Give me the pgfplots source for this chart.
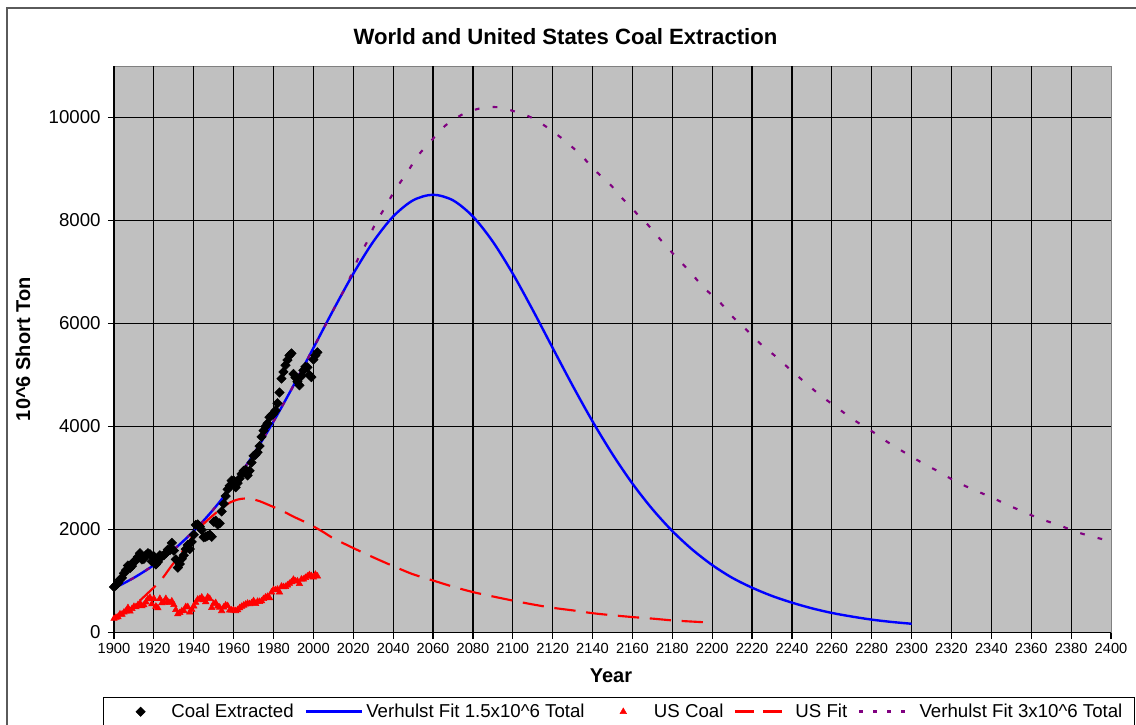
\documentclass[border=0pt]{standalone}
\usepackage{pgfplots}
\pgfplotsset{compat=1.18}
\usepackage{pgfplotstable}
\usepackage{fontspec}
\setmainfont{Liberation Sans}
\definecolor{plotbg}{HTML}{C0C0C0}
\definecolor{vpurple}{HTML}{800080}
\definecolor{framegray}{HTML}{5A5A5A}

\pgfplotstableread{
year val
1900 885
1901 920
1902 960
1903 1030
1904 1060
1905 1150
1906 1210
1907 1300
1908 1250
1909 1290
1910 1380
1911 1400
1912 1470
1913 1540
1914 1420
1915 1430
1916 1500
1917 1540
1918 1520
1919 1380
1920 1480
1921 1320
1922 1370
1923 1500
1924 1480
1925 1500
1926 1540
1927 1610
1928 1600
1929 1740
1930 1590
1931 1420
1932 1260
1933 1330
1934 1430
1935 1500
1936 1620
1937 1700
1938 1620
1939 1760
1940 1900
1941 2090
1942 2100
1943 2060
1944 1990
1945 1850
1946 1860
1947 1880
1948 1900
1949 1860
1950 2150
1951 2170
1952 2100
1953 2120
1954 2350
1955 2500
1956 2650
1957 2780
1958 2850
1959 2950
1960 2950
1961 2820
1962 2900
1963 2990
1964 3080
1965 3140
1966 3160
1967 3050
1968 3140
1969 3300
1970 3430
1971 3450
1972 3500
1973 3620
1974 3800
1975 3920
1976 4000
1977 4060
1978 4180
1979 4220
1980 4250
1981 4310
1982 4450
1983 4660
1984 4930
1985 5060
1986 5190
1987 5290
1988 5380
1989 5420
1990 5020
1991 4950
1992 4870
1993 4800
1994 4980
1995 5090
1996 5160
1997 5150
1998 5000
1999 4960
2000 5300
2001 5380
2002 5440
}\worldcoal

\pgfplotstableread{
year val
1900 858
1910 1063
1920 1310
1930 1611
1940 1970
1950 2396
1960 2892
1970 3462
1980 4099
1990 4794
2000 5525
2010 6263
2020 6967
2030 7588
2040 8078
2050 8392
2060 8500
2070 8392
2080 8078
2090 7588
2100 6967
2110 6263
2120 5525
2130 4794
2140 4099
2150 3462
2160 2892
2170 2396
2180 1970
2190 1611
2200 1310
2210 1063
2220 870
2230 710
2240 580
2250 470
2260 380
2270 310
2280 250
2290 205
2300 170
}\verhulstA

\pgfplotstableread{
year val
1900 270
1901 290
1902 300
1903 357
1904 351
1905 393
1906 415
1907 480
1908 415
1909 460
1910 502
1911 496
1912 535
1913 570
1914 514
1915 532
1916 590
1917 651
1918 679
1919 553
1920 658
1921 507
1922 476
1923 658
1924 571
1925 582
1926 657
1927 597
1928 576
1929 608
1930 537
1931 442
1932 359
1933 383
1934 416
1935 424
1936 497
1937 497
1938 395
1939 445
1940 512
1941 582
1942 643
1943 651
1944 684
1945 632
1946 594
1947 688
1948 657
1949 480
1950 560
1951 576
1952 508
1953 488
1954 420
1955 490
1956 530
1957 518
1958 432
1959 432
1960 434
1961 420
1962 439
1963 477
1964 504
1965 527
1966 547
1967 565
1968 556
1969 571
1970 613
1971 560
1972 602
1973 599
1974 610
1975 655
1976 685
1977 697
1978 670
1979 781
1980 830
1981 824
1982 838
1983 782
1984 896
1985 884
1986 890
1987 919
1988 950
1989 981
1990 1029
1991 996
1992 998
1993 945
1994 1034
1995 1033
1996 1064
1997 1090
1998 1118
1999 1100
2000 1074
2001 1128
2002 1094
}\uscoal

\pgfplotstableread{
year val
1900 270
1905 380
1910 510
1916 730
1923 990
1928 1250
1934 1560
1940 1900
1946 2150
1952 2350
1958 2520
1963 2590
1968 2600
1973 2550
1978 2470
1984 2370
1990 2250
1995 2160
2000 2060
2005 1950
2010 1830
2020 1640
2030 1460
2040 1290
2050 1130
2060 1010
2070 890
2080 785
2090 700
2100 620
2110 545
2120 480
2130 430
2140 375
2150 335
2160 300
2170 270
2180 235
2190 212
2198 195
}\usfit

\pgfplotstableread{
year val
1900 858
1910 1063
1920 1310
1930 1611
1940 1970
1950 2396
1960 2892
1970 3462
1980 4099
1990 4794
2000 5525
2010 6263
2015 6621
2019 6945
2022.5 7269
2027 7592
2031 7935
2036 8259
2041 8595
2047 8932
2052.5 9262
2059.5 9566
2066 9838
2075 10065
2084 10181
2092.5 10200
2101 10116
2110 9987
2118.5 9773
2127 9521
2134.5 9256
2141.5 8964
2149 8693
2155 8427
2162 8142
2169 7864
2175 7586
2182 7288
2189 6997
2196 6690
2204 6406
2210 6142
2217 5884
2224 5613
2232 5355
2239 5110
2246.5 4858
2254 4613
2263 4355
2271 4129
2280 3910
2288 3697
2297 3484
2305.5 3290
2314 3116
2322 2935
2331 2774
2340 2626
2348.5 2471
2357 2329
2365 2200
2374 2084
2382.5 1955
2391 1858
2400 1774
}\verhulstB

\begin{document}
\begin{tikzpicture}
\path[use as bounding box] (0pt,0pt) rectangle (852pt,-543.75pt);
\draw[framegray, line width=1pt] (5.25pt,-6pt) rectangle (880pt,-590pt);
\node[font=\fontsize{16.6}{19}\selectfont\bfseries] at (424.1pt,-27.75pt) {World and United States Coal Extraction};
\begin{axis}[
  at={(85.5pt,-474.375pt)}, anchor=south west,
  scale only axis, width=747.75pt, height=424.875pt,
  xmin=1900, xmax=2400, ymin=0, ymax=11000,
  xtick={1900,1920,...,2380}, extra x ticks={2400}, extra x tick style={grid=none},
  ytick={0,2000,...,10000},
  scaled y ticks=false, scaled x ticks=false,
  axis lines*=left,
  axis line style={black, line width=0.9pt},
  axis background/.style={fill=plotbg, draw=gray, line width=0.75pt},
  grid=major,
  major grid style={black, line width=0.9pt},
  tick style={black, line width=0.9pt},
  tick align=outside, major tick length=4.5pt,
  /pgf/number format/1000 sep={},
  /pgf/number format/assume math mode=true,
  xticklabel style={font=\fontsize{11}{13}\selectfont},
  yticklabel style={font=\fontsize{14}{16}\selectfont, xshift=-2pt},
  xlabel={Year},
  xlabel style={font=\fontsize{15}{18}\selectfont\bfseries, at={(axis description cs:0.4985,-0.0768)}, anchor=center},
  ylabel={10\textasciicircum{}6 Short Ton},
  ylabel style={font=\fontsize{15}{18}\selectfont\bfseries, at={(axis description cs:-0.0913,0.5)}, anchor=center},
  legend columns=5,
  legend image code/.code={\path[draw=none,fill=none] (0pt,-3pt) (42pt,3pt);\draw[mark repeat=2,mark phase=2,#1] plot coordinates {(0pt,0pt) (21pt,0pt) (42pt,0pt)};},
  legend style={at={(axis description cs:-0.011,-0.1139)}, anchor=north west,
    draw=black, fill=white,
    font=\fontsize{14}{16}\selectfont,
    inner xsep=7pt, inner ysep=2pt,
    cells={anchor=west},
    nodes={inner xsep=2pt, inner ysep=3pt},
    /tikz/every even column/.append style={column sep=6pt}},
]
\addplot[only marks, mark=square*, mark size=2.5pt, mark options={rotate=45, line width=0.4pt}, black] table[x=year,y=val] {\worldcoal};
\addlegendentry{Coal Extracted}
\addplot[blue, line width=1.8pt, smooth, no marks,
  legend image code/.code={\draw[blue, line width=2.4pt] (0pt,0pt) -- (42pt,0pt);}] table[x=year,y=val] {\verhulstA};
\addlegendentry{Verhulst Fit 1.5x10\textasciicircum{}6 Total}
\addplot[only marks, mark=triangle*, mark size=2.8pt, mark options={line width=0.4pt}, red] table[x=year,y=val] {\uscoal};
\addlegendentry{US Coal}
\addplot[red, line width=1.6pt, dash pattern=on 16pt off 8pt, smooth, no marks,
  legend image code/.code={\draw[red, line width=2pt, dash pattern=on 14pt off 7pt] (0pt,0pt) -- (42pt,0pt);}] table[x=year,y=val] {\usfit};
\addlegendentry{US Fit}
\addplot[vpurple, line width=1.6pt, dash pattern=on 3.5pt off 10pt, smooth, no marks,
  legend image code/.code={\draw[vpurple, line width=2.2pt, dash pattern=on 3pt off 7.5pt] (3pt,0pt) -- (45pt,0pt);}] table[x=year,y=val] {\verhulstB};
\addlegendentry{Verhulst Fit 3x10\textasciicircum{}6 Total}
\end{axis}
\end{tikzpicture}
\end{document}
